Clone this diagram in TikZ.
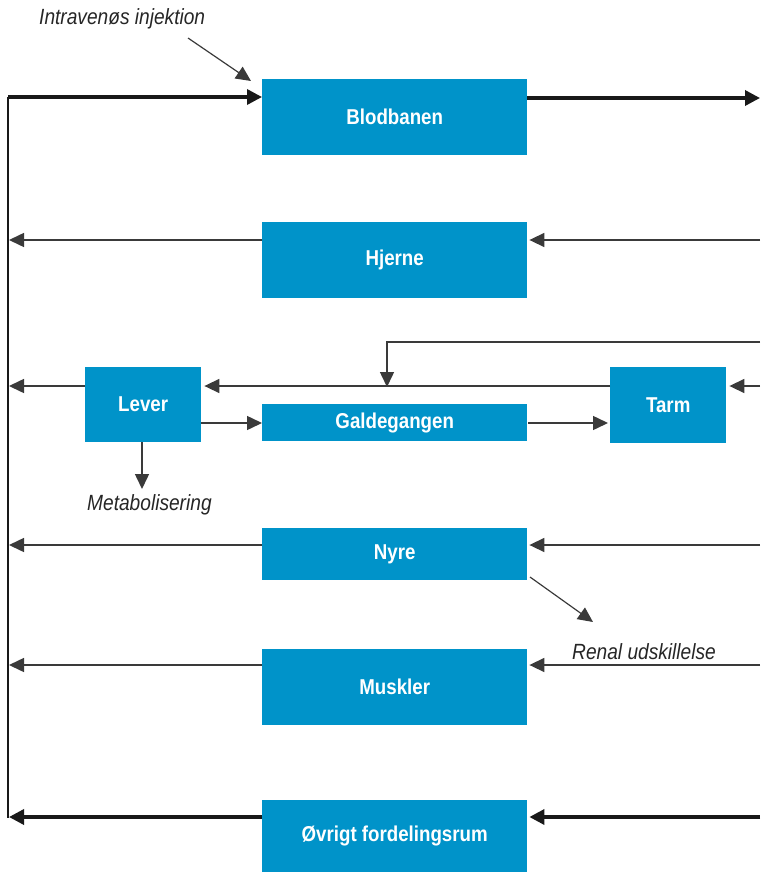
\documentclass[tikz,border=0pt]{standalone}
\usepackage{fontspec}
\setmainfont[FakeStretch=0.87]{Liberation Sans}
\usetikzlibrary{arrows.meta}
\definecolor{boxblue}{HTML}{0093C9}
\definecolor{linegray}{HTML}{3A3A3A}
\tikzset{
  organ/.style={fill=boxblue, draw=none, text=white, font=\fontsize{21.5}{24}\selectfont\bfseries, inner sep=0pt, anchor=north west},
  thin/.style={draw=linegray, line width=1.5pt, -{Triangle[length=15pt,width=14pt]}},
  thick/.style={draw=black!90, line width=3.4pt, -{Triangle[length=15pt,width=15pt]}},
  lbl/.style={font=\fontsize{22}{24}\selectfont\itshape, text=black!85, inner sep=0pt}
}
\begin{document}
\begin{tikzpicture}[x=1pt,y=-1pt]
\useasboundingbox (0,0) rectangle (760,872);
% boxes
\node[organ, minimum width=265pt, minimum height=76pt] (blod) at (262,79) {Blodbanen};
\node[organ, minimum width=265pt, minimum height=76pt] (hj) at (262,222) {Hjerne};
\node[organ, minimum width=116pt, minimum height=75pt] (lev) at (85,367) {Lever};
\node[organ, minimum width=265pt, minimum height=37pt] (gal) at (262,404) {Galdegangen};
\node[organ, minimum width=116pt, minimum height=76pt] (tarm) at (610,367) {Tarm};
\node[organ, minimum width=265pt, minimum height=52pt] (nyre) at (262,528) {Nyre};
\node[organ, minimum width=265pt, minimum height=76pt] (mus) at (262,649) {Muskler};
\node[organ, minimum width=265pt, minimum height=72pt] (ov) at (262,800) {Øvrigt fordelingsrum};
% labels
\node[lbl, anchor=west] (iv) at (39,19) {Intravenøs injektion};
\node[lbl, anchor=west] (met) at (87,505) {Metabolisering};
\node[lbl, anchor=west] (ren) at (572,652) {Renal udskillelse};
% coordinates
\coordinate (ltop) at (8,97);
\coordinate (lbot) at (8,818);
\coordinate (rtop) at (760,98);
\coordinate (rhj) at (760,240);
\coordinate (lhj) at (9,240);
\coordinate (llev) at (9,386);
\coordinate (rloop) at (760,342);
\coordinate (loopc) at (387,342);
\coordinate (loopend) at (387,387);
\coordinate (rtarm) at (760,386);
\coordinate (lnyre) at (9,545);
\coordinate (rnyre) at (760,545);
\coordinate (lmus) at (9,665);
\coordinate (rmus) at (760,665);
\coordinate (lov) at (9,817);
\coordinate (rov) at (760,817);
\coordinate (ivs) at (188,38);
\coordinate (ive) at (251,81);
\coordinate (nys) at (530,577);
\coordinate (nye) at (593,622);
\coordinate (mete) at (142,489);
% left trunk
\draw[black!90, line width=1.4pt] (8,97) -- (lbot);
\draw[thick] (ltop) -- (blod.west |- ltop);
\draw[thick] (blod.east |- rtop) -- (rtop);
\draw[thin, line width=1.2pt] (ivs) -- (ive);
% Hjerne
\draw[thin] (hj.west |- lhj) -- (lhj);
\draw[thin] (rhj) -- ([xshift=2pt]hj.east |- rhj);
% Lever / Tarm
\draw[thin] (lev.west |- llev) -- (llev);
\draw[thin] (tarm.west |- llev) -- ([xshift=3pt]lev.east |- llev);
\draw[thin] (rloop) -- (loopc) -- (loopend);
\draw[thin] (rtarm) -- ([xshift=3pt]tarm.east |- rtarm);
\draw[thin] (lev.east |- 0,423) -- (gal.west |- 0,423);
\draw[thin] ([xshift=1pt]gal.east |- 0,423) -- ([xshift=-2pt]tarm.west |- 0,423);
\draw[thin] (mete |- lev.south) -- (mete);
% Nyre
\draw[thin] (nyre.west |- lnyre) -- (lnyre);
\draw[thin] (rnyre) -- ([xshift=2pt]nyre.east |- rnyre);
\draw[thin, line width=1.2pt] (nys) -- (nye);
% Muskler
\draw[thin] (mus.west |- lmus) -- (lmus);
\draw[thin] (rmus) -- ([xshift=2pt]mus.east |- rmus);
% Ovrigt
\draw[thick] (ov.west |- lov) -- (lov);
\draw[thick] (rov) -- ([xshift=2pt]ov.east |- rov);
\end{tikzpicture}
\end{document}
